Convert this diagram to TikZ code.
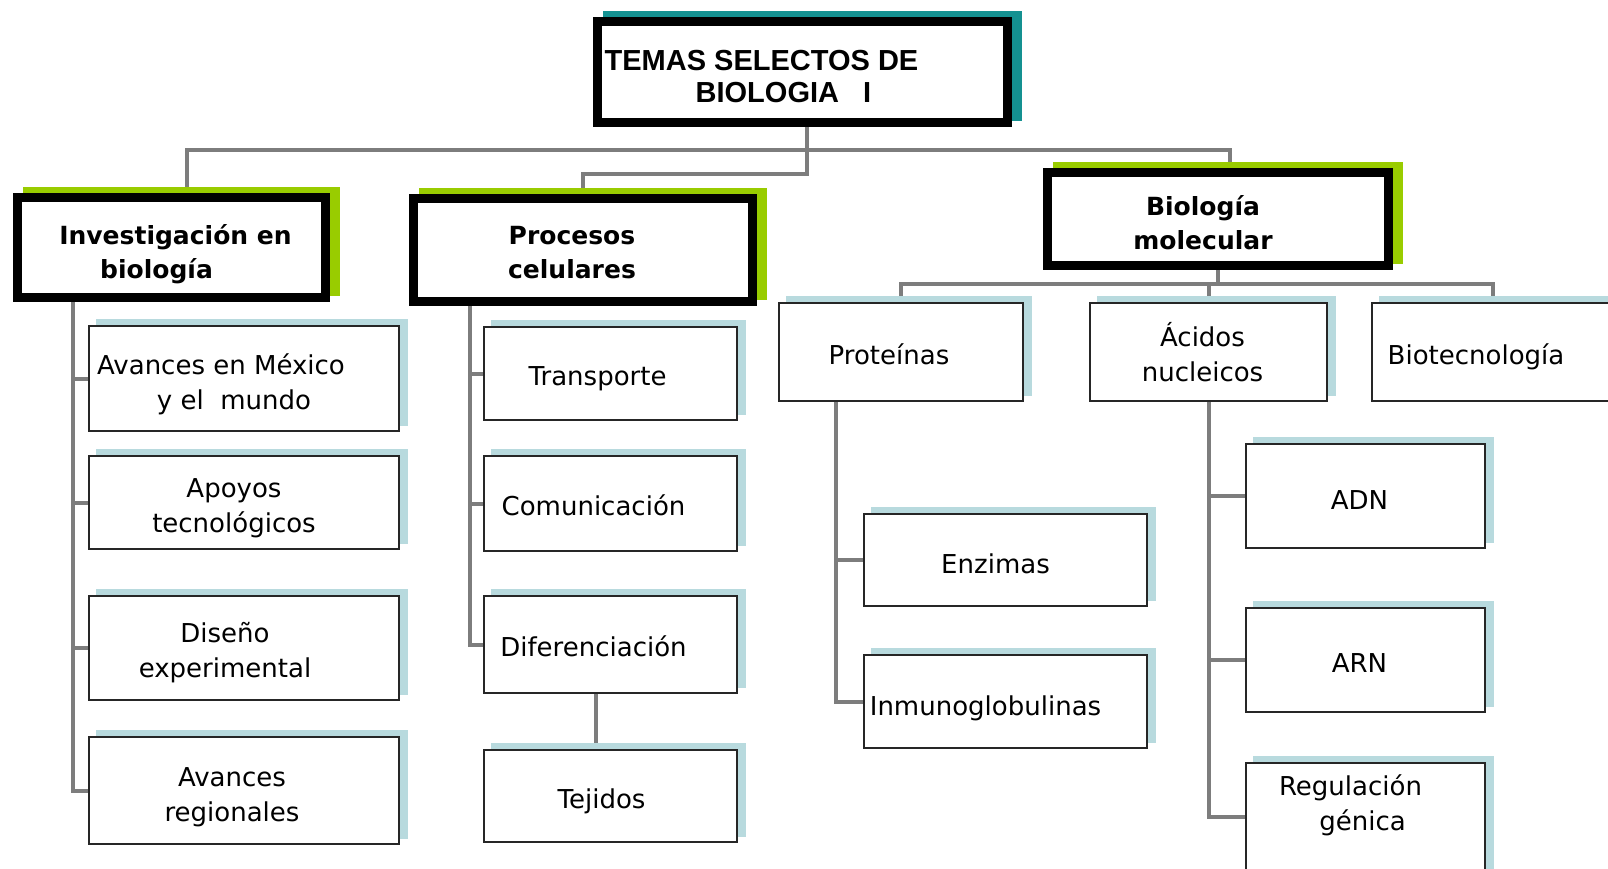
\documentclass[tikz,border=0pt]{standalone}
\usepackage{fontspec}
\setmainfont{DejaVu Sans}
\newfontfamily\titlefont{Liberation Sans}
\usetikzlibrary{shadows,backgrounds}

\definecolor{tealshade}{RGB}{20,145,145}
\definecolor{greenshade}{RGB}{153,204,0}
\definecolor{blueshade}{RGB}{184,218,222}
\definecolor{linkgray}{RGB}{125,125,125}

\tikzset{
    topic/.style={
        draw = black,
        line width = 9pt,
        fill = white,
        inner sep = 0pt,
        drop shadow = {shadow xshift=10pt, shadow yshift=6pt, opacity=1,
                       fill=#1, draw=#1, line width=9pt}
    },
    topic/.default = greenshade,
    leaf/.style={
        draw = black!85,
        line width = 2pt,
        fill = white,
        inner sep = 0pt,
        drop shadow = {shadow xshift=8pt, shadow yshift=6pt, opacity=1,
                       fill=blueshade, draw=blueshade, line width=2pt}
    },
    leaftext/.style={font=\fontsize{26}{35}\selectfont, align=center},
    topictext/.style={font=\fontsize{25}{34}\selectfont\bfseries, align=center},
    tx/.style n args={3}{label={[leaftext, xshift=#1pt, yshift=#2pt]center:{#3}}},
    hx/.style n args={3}{label={[topictext, xshift=#1pt, yshift=#2pt]center:{#3}}},
    link/.style={draw = linkgray, line width = 4pt},
    wh/.style 2 args={minimum width=#1pt, minimum height=#2pt}
}

\begin{document}
\begin{tikzpicture}[x=1pt,y=-1pt]
    \useasboundingbox (0,0) rectangle (1608,868);

    % headers
    \node[topic=tealshade, wh={410}{101},
          label={[font=\titlefont\bfseries\fontsize{29}{32}\selectfont, align=left,
                  xshift=-41pt, yshift=-5pt]center:{TEMAS SELECTOS DE\\\hspace*{91pt}BIOLOGIA\ \ \ I}}]
        (temas) at (802.5,72) {};
    \node[topic, wh={308}{100}, hx={4}{-6.5}{Investigación en\\biología\hspace*{38pt}}] (inv) at (171.5,247.5) {};
    \node[topic, wh={339}{103}, hx={-11}{-3}{Procesos\\celulares}] (proc) at (583,250) {};
    \node[topic, wh={341}{93}, hx={-15}{-3.5}{Biología\\molecular}] (biomol) at (1218,219) {};

    % investigacion
    \node[leaf, wh={310}{105}, tx={-23}{-6}{Avances en México\\\hspace*{26pt}y el\ \ mundo}] (avmex) at (244,378.5) {};
    \node[leaf, wh={310}{93}, tx={-10}{-6}{Apoyos\\tecnológicos}] (apoyos) at (244,502.5) {};
    \node[leaf, wh={310}{104}, tx={-19}{-5}{Diseño\\experimental}] (diseno) at (244,648) {};
    \node[leaf, wh={310}{107}, tx={-12}{-7}{Avances\\regionales}] (avreg) at (244,790.5) {};

    % procesos
    \node[leaf, wh={253}{93}, tx={-13}{-5}{Transporte}] (transp) at (610.5,373.5) {};
    \node[leaf, wh={253}{95}, tx={-17}{-2}{Comunicación}] (comun) at (610.5,503.5) {};
    \node[leaf, wh={253}{97}, tx={-17}{-2}{Diferenciación}] (difer) at (610.5,644.5) {};
    \node[leaf, wh={253}{92}, tx={-9}{-5}{Tejidos}] (tejidos) at (610.5,796) {};

    % biologia molecular
    \node[leaf, wh={244}{98}, tx={-12}{-2}{Proteínas}] (prot) at (901,352) {};
    \node[leaf, wh={237}{98}, tx={-6}{0}{Ácidos\\nucleicos}] (acidos) at (1208.5,352) {};
    \node[leaf, wh={252}{98}, tx={-22}{-5}{Biotecnología}] (biotec) at (1498,352) {};
    \node[leaf, wh={283}{92}, tx={-10}{-4}{Enzimas}] (enzimas) at (1005.5,560) {};
    \node[leaf, wh={283}{93}, tx={-20}{-7}{Inmunoglobulinas}] (inmuno) at (1005.5,701.5) {};
    \node[leaf, wh={239}{104}, tx={-6}{-4}{ADN}] (adn) at (1365.5,496) {};
    \node[leaf, wh={239}{104}, tx={-6}{-3}{ARN}] (arn) at (1365.5,660) {};
    \node[leaf, wh={239}{140}, tx={-15}{27.5}{Regulación\\\hspace*{24pt}génica}] (regul) at (1365.5,833) {};

    \coordinate (bus) at (0,150);
    \coordinate (subbus) at (0,174);
    \coordinate (molbus) at (0,284);
    \coordinate (temasdn) at ([xshift=4.5pt]temas.south);
    \coordinate (invtop) at ([xshift=15.5pt]inv.north);
    \coordinate (moltop) at ([xshift=12pt]biomol.north);
    \coordinate (invstem) at ([xshift=60pt]inv.south west);
    \coordinate (procstem) at ([xshift=61pt]proc.south west);
    \coordinate (protstem) at ([xshift=58pt]prot.south west);
    \coordinate (difdn) at ([xshift=-14.5pt]difer.south);
    \coordinate (biotop) at ([xshift=-5pt]biotec.north);
    \coordinate (regin) at ([yshift=-55pt]regul.north west);

    \begin{scope}[on background layer]
        \draw[link] (temasdn) |- (proc.north |- subbus) -- (proc.north);
        \draw[link] (invtop) |- (moltop |- bus) -- (moltop);
        \draw[link] (invstem) |- (avreg.west);
        \draw[link] (invstem |- avmex.west) -- (avmex.west);
        \draw[link] (invstem |- apoyos.west) -- (apoyos.west);
        \draw[link] (invstem |- diseno.west) -- (diseno.west);
        \draw[link] (procstem) |- (difer.west);
        \draw[link] (procstem |- transp.west) -- (transp.west);
        \draw[link] (procstem |- comun.west) -- (comun.west);
        \draw[link] (difdn) -- (difdn |- tejidos.north);
        \draw[link] (biomol.south) -- (biomol.south |- molbus);
        \draw[link] (prot.north) |- (biotop |- molbus) -- (biotop);
        \draw[link] (acidos.north) -- (acidos.north |- molbus);
        \draw[link] (protstem) |- (inmuno.west);
        \draw[link] (protstem |- enzimas.west) -- (enzimas.west);
        \draw[link] (acidos.south) |- (regin);
        \draw[link] (acidos.south |- adn.west) -- (adn.west);
        \draw[link] (acidos.south |- arn.west) -- (arn.west);
    \end{scope}
\end{tikzpicture}
\end{document}
